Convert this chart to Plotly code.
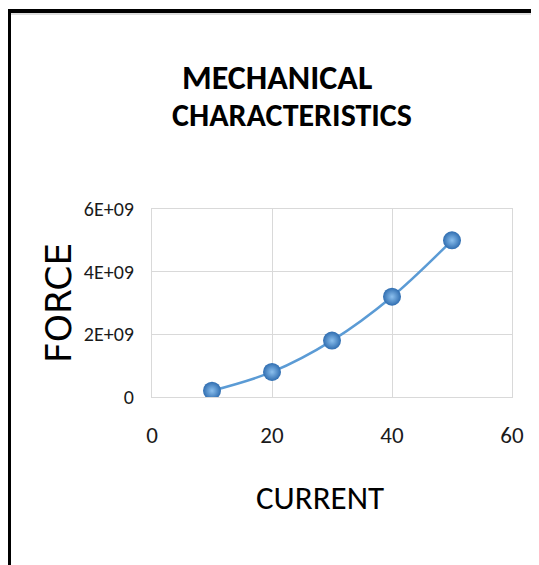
import plotly.graph_objects as go

current = [10, 20, 30, 40, 50]
force = [0.2e9, 0.8e9, 1.8e9, 3.2e9, 5.0e9]

y_tickvals = [0, 2e9, 4e9, 6e9]
y_ticktext = ["0", "2E+09", "4E+09", "6E+09"]
x_tickvals = [0, 20, 40, 60]
x_ticktext = ["0", "20", "40", "60"]

title_line1 = "MECHANICAL"
title_line2 = "CHARACTERISTICS"
x_title = "CURRENT"
y_title = "FORCE"

NARROW = "Carlito, Lato, sans-serif"

OFF = 8  # page body margin
W, H = 539 - OFF, 565 - OFF
# plot area in reference (window) pixels
PX0, PX1, PY0, PY1 = 152, 512, 209, 397
L, R = PX0 - OFF, W - (PX1 - OFF)
T, B = PY0 - OFF, H - (PY1 - OFF)
pw, ph = PX1 - PX0, PY1 - PY0

def px(x):
    return (x - PX0) / pw

def py(y):
    return (PY1 - y) / ph

fig = go.Figure()
fig.add_trace(go.Scatter(
    x=current, y=force, mode="lines+markers",
    line=dict(color="#5b9bd5", width=2.5, shape="spline", smoothing=1),
    marker=dict(size=18, color="#2f6db0",
                gradient=dict(type="radial", color="#8cc0ee"),
                line=dict(width=0)),
    showlegend=False, hoverinfo="skip",
))

fig.update_layout(
    width=W, height=H,
    margin=dict(l=L, r=R, t=T, b=B),
    paper_bgcolor="white", plot_bgcolor="white",
    xaxis=dict(range=[0, 60], tickvals=x_tickvals, ticktext=x_ticktext,
               showgrid=True, gridcolor="#d9d9d9", gridwidth=1,
               showline=True, linecolor="#d9d9d9", mirror=True, zeroline=False,
               ticks="", tickfont=dict(family=NARROW, size=23, color="#1a1a1a"),
               ticklabelstandoff=17),
    yaxis=dict(range=[0, 6e9], tickvals=y_tickvals, ticktext=y_ticktext,
               showgrid=True, gridcolor="#d9d9d9", gridwidth=1,
               showline=True, linecolor="#d9d9d9", mirror=True, zeroline=False,
               ticks="", tickfont=dict(family=NARROW, size=20, color="#1a1a1a"),
               ticklabelstandoff=13),
    annotations=[
        dict(text=title_line1, x=px(277), y=py(77), xref="paper", yref="paper",
             showarrow=False, xanchor="center", yanchor="middle",
             font=dict(family=NARROW, size=34, color="black", weight="bold")),
        dict(text=title_line2, x=px(292), y=py(115), xref="paper", yref="paper",
             showarrow=False, xanchor="center", yanchor="middle",
             font=dict(family=NARROW, size=32, color="black", weight="bold")),
        dict(text=x_title, x=px(320), y=py(498), xref="paper", yref="paper",
             showarrow=False, xanchor="center", yanchor="middle",
             font=dict(family=NARROW, size=33, color="black")),
        dict(text=y_title, x=px(58), y=py(303), xref="paper", yref="paper",
             showarrow=False, xanchor="center", yanchor="middle", textangle=-90,
             font=dict(family="DejaVu Sans, sans-serif", size=36, color="black")),
    ],
    shapes=[
        dict(type="line", xref="paper", yref="paper", x0=px(9), x1=px(560),
             y0=py(11), y1=py(11), line=dict(color="black", width=4)),
        dict(type="line", xref="paper", yref="paper", x0=px(9), x1=px(9),
             y0=py(9), y1=py(580), line=dict(color="black", width=4)),
        dict(type="line", xref="paper", yref="paper", x0=px(11), x1=px(560),
             y0=py(14), y1=py(14), line=dict(color="#bbbbbb", width=1)),
    ],
)

fig.write_html("out.html")
